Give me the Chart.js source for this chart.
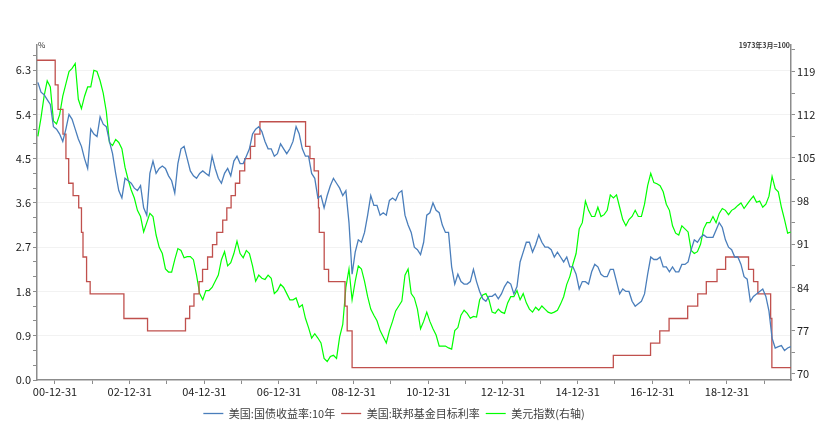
<!DOCTYPE html>
<html>
<head>
<meta charset="utf-8">
<script src="https://cdn.jsdelivr.net/npm/chart.js@4"></script>
<style>
  html, body { margin: 0; padding: 0; background: #fff; }
  #wrap { width: 820px; height: 433px; }
</style>
</head>
<body>
<div id="wrap"><canvas id="c" width="820" height="433"></canvas></div>
<script>
// monthly readings, 2000-07 .. 2020-09
const firstMonth = '2000-07';

const yield10y = [
  6.05, 5.85, 5.8, 5.7, 5.6, 5.15,
  5.1, 5.0, 4.85, 5.1, 5.4, 5.3, 5.1, 4.9, 4.75, 4.5, 4.3, 5.1,
  5.0, 4.95, 5.35, 5.2, 5.15, 4.85, 4.6, 4.2, 3.85, 3.7, 4.1, 4.05,
  4.0, 3.9, 3.85, 3.95, 3.5, 3.35, 4.2, 4.45, 4.2, 4.3, 4.35, 4.3,
  4.15, 4.05, 3.8, 4.4, 4.7, 4.75, 4.5, 4.25, 4.15, 4.1, 4.2, 4.25,
  4.2, 4.15, 4.55, 4.3, 4.1, 4.0, 4.2, 4.3, 4.15, 4.45, 4.55, 4.4,
  4.4, 4.55, 4.7, 5.0, 5.1, 5.15, 5.05, 4.85, 4.7, 4.7, 4.55, 4.6,
  4.8, 4.7, 4.6, 4.7, 4.85, 5.15, 5.0, 4.7, 4.55, 4.55, 4.2, 4.1,
  3.7, 3.75, 3.5, 3.75, 3.95, 4.1, 4.0, 3.9, 3.75, 3.85, 3.2, 2.15,
  2.6, 2.85, 2.8, 3.0, 3.35, 3.75, 3.55, 3.55, 3.35, 3.4, 3.35, 3.65,
  3.7, 3.65, 3.8, 3.85, 3.35, 3.15, 3.0, 2.7, 2.65, 2.55, 2.8, 3.35,
  3.4, 3.6, 3.45, 3.4, 3.15, 3.0, 3.0, 2.3, 1.95, 2.15, 2.0, 1.95,
  1.95, 2.0, 2.25, 2.0, 1.8, 1.65, 1.6, 1.7, 1.7, 1.75, 1.65, 1.75,
  1.9, 2.0, 1.95, 1.75, 1.9, 2.4, 2.6, 2.8, 2.8, 2.6, 2.75, 2.95,
  2.8, 2.7, 2.7, 2.65, 2.5, 2.6, 2.5, 2.4, 2.5, 2.3, 2.3, 2.15,
  1.85, 2.0, 2.0, 1.95, 2.2, 2.35, 2.3, 2.15, 2.1, 2.1, 2.25, 2.25,
  2.0, 1.75, 1.85, 1.8, 1.8, 1.6, 1.5, 1.55, 1.6, 1.75, 2.15, 2.5,
  2.45, 2.45, 2.5, 2.3, 2.3, 2.2, 2.3, 2.2, 2.2, 2.35, 2.35, 2.4,
  2.65, 2.85, 2.8, 2.9, 2.95, 2.9, 2.9, 2.9, 3.05, 3.2, 3.1, 2.85,
  2.7, 2.65, 2.5, 2.5, 2.35, 2.1, 2.05, 1.6, 1.7, 1.75, 1.8, 1.85,
  1.7, 1.4, 0.85, 0.65, 0.68, 0.7, 0.6, 0.65, 0.68
];

const dollarIndex = [
  108.5, 111.5, 115, 117.5, 116.5, 111,
  110.5, 112, 115, 117, 119, 119.5, 120.3, 114.5, 113, 115, 116.5, 116.5,
  119.2, 119, 117.5, 115.5, 112.5, 107.5, 107, 108, 107.5, 106.5, 103.5, 101.5,
  99.8, 98.5, 96.5, 95.5, 93, 94.5, 96, 95.5, 92.5, 90.5, 89.5, 87,
  86.5, 86.5, 88.5, 90.3, 90, 88.8, 89, 89, 88.5, 86, 83, 82,
  83.5, 83.5, 84, 85, 86, 88.5, 89.8, 87.5, 88, 89.5, 91.5, 89.5,
  88.8, 90, 89.5, 87.5, 85, 86, 85.5, 85.3, 86, 85.5, 83, 83.5,
  84.5, 84, 83, 82, 82, 82.3, 80.8, 81.2, 79, 77.5, 75.8, 76.5,
  75.8, 75, 72.5, 72, 72.8, 73, 72.5, 76, 78, 84, 87, 82,
  85, 87.5, 87, 85, 82.5, 80.5, 79.5, 78.6, 77, 76, 75, 77,
  78.5, 80.2, 81, 81.8, 86, 87, 83, 82.3, 80.5, 77.3, 78.5, 80,
  78.5, 77.3, 76.3, 74.5, 74.5, 74.5, 74.2, 74, 77, 77.5, 79.5, 80.3,
  79.8, 79, 79.3, 79.2, 82, 82.8, 83, 82, 80, 79.8, 80.5, 80,
  79.8, 81.5, 82.5, 82.5, 83.5, 82, 83, 81.5, 80.5, 80, 80.8, 80.3,
  81, 80.5, 80, 79.8, 80, 80.3, 81.3, 82.5, 84.5, 85.8, 87.8, 89.5,
  93.5, 94.5, 98, 96.5, 95.5, 95.5, 97, 95.5, 95.8, 96.5, 99, 98.5,
  99, 97, 95, 94, 95, 95.5, 96.5, 95.5, 95.5, 97.5, 100.5, 102.5,
  101, 100.8, 100.5, 99.5, 97.5, 96.5, 94, 92.8, 92.5, 94, 93.5, 93,
  90, 89.5, 89.8, 91, 93.5, 94.5, 94.5, 95.5, 94.5, 96, 96.8, 96.5,
  95.8, 96.5, 96.8, 97.3, 97.7, 96.8, 97.5, 98.2, 98.8, 97.8, 98, 97,
  97.5, 98.8, 102, 100, 99.5, 97, 95, 92.8, 93
];

// fed funds target: date of change -> new rate
const fedDates = [
  '2000-07-01', '2001-01-03', '2001-01-31', '2001-03-20', '2001-04-18', '2001-05-15',
  '2001-06-27', '2001-08-21', '2001-09-17', '2001-10-02', '2001-11-06', '2001-12-11',
  '2002-11-06', '2003-06-25', '2004-06-30', '2004-08-10', '2004-09-21', '2004-11-10',
  '2004-12-14', '2005-02-02', '2005-03-22', '2005-05-03', '2005-06-30', '2005-08-09',
  '2005-09-20', '2005-11-01', '2005-12-13', '2006-01-31', '2006-03-28', '2006-05-10',
  '2006-06-29', '2007-09-18', '2007-10-31', '2007-12-11', '2008-01-22', '2008-01-30',
  '2008-03-18', '2008-04-30', '2008-10-08', '2008-10-29', '2008-12-16', '2015-12-16',
  '2016-12-14', '2017-03-15', '2017-06-14', '2017-12-13', '2018-03-21', '2018-06-13',
  '2018-09-26', '2018-12-19', '2019-07-31', '2019-09-18', '2019-10-30', '2020-03-03',
  '2020-03-15', '2020-09-20'
];
const fedRate = [
  6.5, 6.0, 5.5, 5.0, 4.5, 4.0,
  3.75, 3.5, 3.0, 2.5, 2.0, 1.75,
  1.25, 1.0, 1.25, 1.5, 1.75, 2.0,
  2.25, 2.5, 2.75, 3.0, 3.25, 3.5,
  3.75, 4.0, 4.25, 4.5, 4.75, 5.0,
  5.25, 4.75, 4.5, 4.25, 3.5, 3.0,
  2.25, 2.0, 1.5, 1.0, 0.25, 0.5,
  0.75, 1.0, 1.25, 1.5, 1.75, 2.0,
  2.25, 2.5, 2.25, 2.0, 1.75, 1.25,
  0.25, 0.25
];

const seriesNames = ['美国:国债收益率:10年', '美国:联邦基金目标利率', '美元指数(右轴)'];
const seriesColors = ['#4a7ebb', '#c0504d', '#00ff00'];

const xTicks = [2001, 2002, 2003, 2004, 2005, 2006, 2007, 2008, 2009, 2010,
                2011, 2012, 2013, 2014, 2015, 2016, 2017, 2018, 2019, 2020];
const leftTicks = [0, 0.9, 1.8, 2.7, 3.6, 4.5, 5.4, 6.3];
const rightTicks = [70, 77, 84, 91, 98, 105, 112, 119];

// helpers
function dayToYear(s) {
  const [y, m, d] = s.split('-').map(Number);
  return y + (Date.UTC(y, m - 1, d) - Date.UTC(y, 0, 1)) / (365.25 * 864e5);
}
function monthToYear(i) {
  const [y0, m0] = firstMonth.split('-').map(Number);
  const k = m0 - 1 + i;
  return y0 + Math.floor(k / 12) + ((k % 12) + 0.5) / 12;
}
function withMinors(step, lo, hi) {
  const out = [];
  for (let v = lo; v <= hi + 1e-9; v += step) out.push({ value: +v.toFixed(4) });
  return out;
}
const isMajor = (v, list) => list.some(t => Math.abs(t - v) < 1e-6);

const font = { family: '"Noto Sans CJK SC", "Noto Sans", sans-serif', size: 11 };
const axisGray = '#8c8c8c';
const shiftLeft = 32; // legend sits left of centre in the original

const unitLabels = {
  id: 'unitLabels',
  afterDraw(chart) {
    const { ctx, scales } = chart;
    ctx.save();
    ctx.fillStyle = '#333';
    ctx.textBaseline = 'middle';
    ctx.font = '8px "Noto Sans CJK SC", sans-serif';
    ctx.textAlign = 'left';
    ctx.fillText('%', scales.y.right + 1, scales.y.top);
    ctx.font = 'bold 7px "Noto Sans CJK SC", sans-serif';
    ctx.textAlign = 'right';
    ctx.fillText('1973年3月=100', scales.y1.left - 1, scales.y1.top);
    ctx.restore();
  }
};

new Chart(document.getElementById('c'), {
  type: 'line',
  data: {
    datasets: [
      {
        label: seriesNames[0],
        data: yield10y.map((v, i) => ({ x: monthToYear(i), y: v })),
        borderColor: seriesColors[0], backgroundColor: seriesColors[0],
        borderWidth: 1.3, pointRadius: 0, yAxisID: 'y'
      },
      {
        label: seriesNames[1],
        data: fedRate.map((v, i) => ({ x: dayToYear(fedDates[i]), y: v })),
        borderColor: seriesColors[1], backgroundColor: seriesColors[1],
        borderWidth: 1.3, pointRadius: 0, stepped: 'before', yAxisID: 'y'
      },
      {
        label: seriesNames[2],
        data: dollarIndex.map((v, i) => ({ x: monthToYear(i), y: v })),
        borderColor: seriesColors[2], backgroundColor: seriesColors[2],
        borderWidth: 1.2, pointRadius: 0, yAxisID: 'y1'
      }
    ]
  },
  options: {
    responsive: false,
    animation: false,
    layout: { padding: { top: 45, left: -shiftLeft, right: 0, bottom: 4 } },
    plugins: {
      tooltip: { enabled: false },
      legend: {
        position: 'bottom',
        labels: {
          usePointStyle: true, pointStyle: 'line', pointStyleWidth: 20,
          font, color: '#404040', padding: 6
        }
      }
    },
    scales: {
      x: {
        type: 'linear', min: 2000.518, max: 2020.715,
        afterBuildTicks: s => { s.ticks = xTicks.map(v => ({ value: v })); },
        afterFit: s => { s.height = 22; },
        ticks: {
          autoSkip: false, maxRotation: 0, font, color: '#222', padding: 1,
          callback: v => ((v - 2001) % 2 === 0 ? String(v - 1).slice(2) + '-12-31' : '')
        },
        grid: { drawOnChartArea: false, tickLength: 4, tickColor: axisGray },
        border: { color: axisGray, width: 1.5 }
      },
      y: {
        position: 'left', min: 0, max: 6.81,
        afterBuildTicks: s => { s.ticks = withMinors(0.3, 0, 6.6); },
        afterFit: s => { s.width = 37 + shiftLeft; },
        ticks: {
          autoSkip: false, font, color: '#222', padding: 2,
          callback: v => (isMajor(v, leftTicks) ? v.toFixed(1) : '')
        },
        grid: {
          color: c => (isMajor(c.tick.value, leftTicks) && c.tick.value > 0 ? '#f2f2f2' : 'rgba(0,0,0,0)'),
          tickColor: axisGray, tickLength: 4
        },
        border: { color: axisGray, width: 1.5 }
      },
      y1: {
        position: 'right', min: 69.0, max: 123.3,
        afterBuildTicks: s => { s.ticks = withMinors(3.5, 70, 122.5); },
        afterFit: s => { s.width = 29; },
        ticks: {
          autoSkip: false, font, color: '#222', padding: 2,
          callback: v => (isMajor(v, rightTicks) ? String(v) : '')
        },
        grid: { drawOnChartArea: false, tickColor: axisGray, tickLength: 4 },
        border: { color: axisGray, width: 1.5 }
      }
    }
  },
  plugins: [unitLabels]
});
</script>
</body>
</html>
